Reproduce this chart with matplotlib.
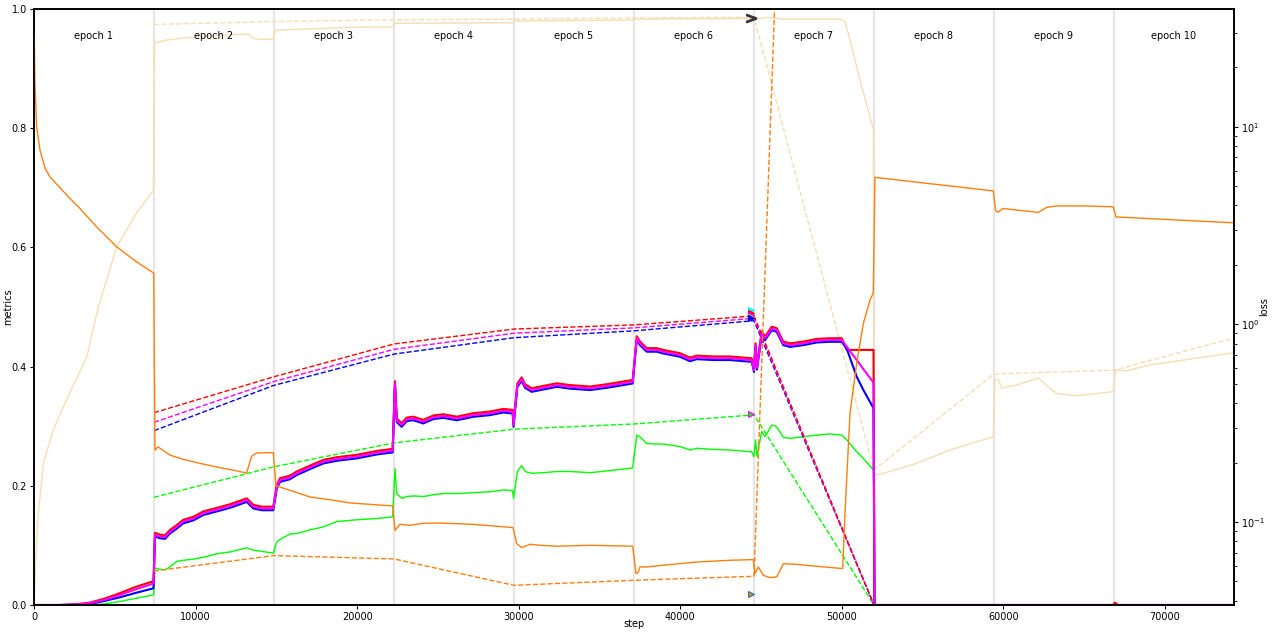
import numpy as np
import matplotlib
matplotlib.use("Agg")
import matplotlib.pyplot as plt

plt.rcParams["font.family"] = ["DejaVu Sans"]
plt.rcParams["font.size"] = 7

STEPS_PER_EPOCH = 7427
N_EPOCHS = 10

# positions below are given in epochs (step / STEPS_PER_EPOCH)

# --- train metrics (running average, reset every epoch) ---
train_pos = [
    0.0, 0.217, 0.342, 0.467, 0.592, 0.717, 0.842, 0.996,
    1.008, 1.05, 1.092, 1.133, 1.189, 1.244, 1.328, 1.411, 1.523, 1.633, 1.773, 1.828, 1.898, 1.994,
    2.023, 2.05, 2.133, 2.189, 2.3, 2.411, 2.523, 2.689, 2.856, 2.989,
    3.008, 3.023, 3.064, 3.106, 3.161, 3.244, 3.328, 3.411, 3.523, 3.661, 3.8, 3.911, 3.989, 3.996,
    4.028, 4.064, 4.092, 4.148, 4.244, 4.356, 4.467, 4.633, 4.773, 4.911, 4.989,
    5.023, 5.05, 5.106, 5.189, 5.244, 5.383, 5.467, 5.523, 5.661, 5.8, 5.981,
    6.0, 6.013, 6.025, 6.064, 6.092, 6.148, 6.189, 6.244, 6.3, 6.411, 6.523, 6.633, 6.731, 6.773, 6.856, 6.911, 6.996,
    7.004, 8.992, 9.008, 9.033, 10.0,
]
train_red = [
    0, 0, 0.001, 0.004, 0.011, 0.020, 0.030, 0.040,
    0.121, 0.118, 0.117, 0.126, 0.134, 0.143, 0.148, 0.157, 0.163, 0.169, 0.179, 0.168, 0.165, 0.165,
    0.2015, 0.2127, 0.217, 0.224, 0.234, 0.2435, 0.248, 0.252, 0.2585, 0.262,
    0.3755, 0.313, 0.305, 0.3145, 0.316, 0.3106, 0.318, 0.320, 0.316, 0.3218, 0.3246, 0.329, 0.3273, 0.305,
    0.372, 0.382, 0.3704, 0.3637, 0.3676, 0.372, 0.369, 0.3666, 0.3704, 0.375, 0.3777,
    0.451, 0.442, 0.431, 0.431, 0.428, 0.4225, 0.415, 0.4185, 0.417, 0.417, 0.414,
    0.397, 0.439, 0.401, 0.459, 0.4505, 0.467, 0.4644, 0.442, 0.439, 0.442, 0.4465, 0.4476, 0.4476, 0.428, 0.428, 0.428, 0.428,
    0, 0, 0.004, 0, 0,
]
train_magenta = [
    0, 0, 0.001, 0.003, 0.009, 0.017, 0.026, 0.036,
    0.118, 0.115, 0.114, 0.123, 0.131, 0.140, 0.145, 0.154, 0.160, 0.166, 0.176, 0.165, 0.162, 0.162,
    0.1985, 0.2097, 0.214, 0.221, 0.231, 0.2405, 0.245, 0.249, 0.2555, 0.259,
    0.3725, 0.31, 0.302, 0.3115, 0.313, 0.3076, 0.315, 0.317, 0.313, 0.3188, 0.3216, 0.326, 0.3243, 0.302,
    0.369, 0.379, 0.3674, 0.3607, 0.3646, 0.369, 0.366, 0.3636, 0.3674, 0.372, 0.3747,
    0.448, 0.439, 0.428, 0.428, 0.425, 0.4195, 0.412, 0.4155, 0.414, 0.414, 0.411,
    0.394, 0.436, 0.398, 0.456, 0.4475, 0.464, 0.4614, 0.439, 0.436, 0.439, 0.4435, 0.4446, 0.4446, 0.4334, 0.411, 0.396, 0.373,
    0, 0, 0, 0, 0,
]
train_blue = [
    0, 0, 0.0005, 0.002, 0.007, 0.013, 0.020, 0.028,
    0.115, 0.112, 0.111, 0.120, 0.128, 0.137, 0.142, 0.151, 0.157, 0.163, 0.173, 0.162, 0.159, 0.159,
    0.1955, 0.2067, 0.211, 0.218, 0.228, 0.2375, 0.242, 0.246, 0.2525, 0.256,
    0.3695, 0.307, 0.299, 0.3085, 0.310, 0.3046, 0.312, 0.314, 0.310, 0.3158, 0.3186, 0.323, 0.3213, 0.299,
    0.366, 0.376, 0.3644, 0.3577, 0.3616, 0.366, 0.363, 0.3606, 0.3644, 0.369, 0.3717,
    0.445, 0.436, 0.425, 0.425, 0.422, 0.4165, 0.409, 0.4125, 0.411, 0.411, 0.408,
    0.391, 0.433, 0.395, 0.453, 0.4445, 0.461, 0.4584, 0.436, 0.433, 0.436, 0.4405, 0.4416, 0.4416, 0.430, 0.383, 0.361, 0.330,
    0, 0, 0, 0, 0,
]
train_green = [
    0, 0, 0, 0, 0.002, 0.006, 0.011, 0.017,
    0.062, 0.060, 0.059, 0.064, 0.073, 0.075, 0.077, 0.080, 0.086, 0.089, 0.096, 0.092, 0.090, 0.087,
    0.106, 0.110, 0.119, 0.120, 0.126, 0.131, 0.140, 0.143, 0.145, 0.148,
    0.229, 0.187, 0.179, 0.182, 0.183, 0.182, 0.185, 0.187, 0.187, 0.1885, 0.190, 0.193, 0.192, 0.179,
    0.224, 0.234, 0.224, 0.221, 0.222, 0.224, 0.224, 0.222, 0.225, 0.228, 0.230,
    0.285, 0.282, 0.271, 0.270, 0.270, 0.266, 0.260, 0.263, 0.261, 0.260, 0.257,
    0.249, 0.277, 0.249, 0.291, 0.2824, 0.302, 0.299, 0.2813, 0.2796, 0.2824, 0.285, 0.287, 0.285, 0.277, 0.257, 0.246, 0.2265,
    0, 0, 0, 0, 0,
]

# --- train accuracy ---
acc_pos = [
    0.003, 0.013, 0.036, 0.078, 0.161, 0.244, 0.328, 0.439, 0.536, 0.689, 0.856, 0.996,
    1.004, 1.106, 1.383, 1.658, 1.786, 1.828, 1.883, 1.994,
    2.011, 2.217, 2.492, 2.772, 2.994,
    3.008, 3.994,
    4.008, 4.992,
    5.008, 5.983,
    6.023, 6.106, 6.244, 6.717, 6.758, 6.8, 6.883, 6.996, 7.0,
    7.008, 7.078, 7.217, 7.356, 7.633, 7.856, 7.994,
    8.008, 8.036, 8.064, 8.106, 8.189, 8.369, 8.439, 8.522, 8.689, 8.994,
    9.014, 9.106, 9.3, 9.578, 9.989,
]
train_acc = [
    0.01, 0.07, 0.154, 0.238, 0.294, 0.332, 0.369, 0.416, 0.5, 0.601, 0.658, 0.696,
    0.943, 0.948, 0.954, 0.957, 0.958, 0.951, 0.949, 0.949,
    0.9645, 0.966, 0.968, 0.970, 0.970,
    0.976, 0.977,
    0.980, 0.9815,
    0.983, 0.984,
    0.983, 0.986, 0.983, 0.983, 0.979, 0.948, 0.881, 0.797, 0.23,
    0.218, 0.221, 0.229, 0.238, 0.260, 0.274, 0.282,
    0.3775, 0.3787, 0.3636, 0.366, 0.369, 0.381, 0.368, 0.355, 0.351, 0.358,
    0.394, 0.393, 0.4027, 0.411, 0.423,
]

# --- train loss (right axis, log) ---
loss_pos = [
    0.002, 0.008, 0.022, 0.05, 0.092, 0.133, 0.3, 0.383, 0.522, 0.689, 0.856, 0.998,
    1.008, 1.033, 1.133, 1.242, 1.383, 1.525, 1.658, 1.772, 1.814, 1.856, 1.994,
    2.017, 2.05, 2.133, 2.3, 2.492, 2.633, 2.908, 2.989,
    3.008, 3.05, 3.133, 3.242, 3.383, 3.658, 3.992,
    4.022, 4.064, 4.133, 4.217, 4.356, 4.633, 4.989,
    5.017, 5.036, 5.05, 5.106, 5.242, 5.525, 5.8, 5.994,
    6.008, 6.036, 6.078, 6.133, 6.189, 6.231, 6.244, 6.356, 6.522, 6.739, 6.758, 6.8, 6.856, 6.911, 6.967, 6.994,
    7.008, 7.994,
    8.014, 8.036, 8.072, 8.369, 8.439, 8.522, 8.744, 8.994,
    9.017, 9.989,
]
train_loss = [
    29.1, 16.6, 10.0, 7.62, 6.18, 5.58, 4.34, 3.86, 3.12, 2.47, 2.07, 1.82,
    0.231, 0.240, 0.218, 0.2077, 0.198, 0.1897, 0.183, 0.177, 0.2155, 0.2236, 0.2245,
    0.1517, 0.1503, 0.1446, 0.1338, 0.1289, 0.1249, 0.1215, 0.1206,
    0.0907, 0.0973, 0.0962, 0.0985, 0.0988, 0.0973, 0.0937,
    0.0778, 0.0742, 0.0771, 0.0762, 0.0754, 0.0762, 0.0754,
    0.0548, 0.0558, 0.0592, 0.0592, 0.0604, 0.0627, 0.0640, 0.0645,
    0.0548, 0.0592, 0.0537, 0.0523, 0.0527, 0.0592, 0.0615, 0.0610, 0.0597, 0.0581, 0.110, 0.356, 0.637, 1.01, 1.33, 1.44,
    5.55, 4.74,
    3.76, 3.70, 3.86, 3.69, 3.91, 3.98, 3.98, 3.94,
    3.50, 3.27,
]

# --- validation, one value per epoch ---
val_epochs = list(range(1, N_EPOCHS + 1))
val_acc = [0.974, 0.979, 0.982, 0.983, 0.985, 0.986, 0.2265, 0.3876, 0.394, 0.448]
val_red = [0.3226, 0.383, 0.438, 0.463, 0.470, 0.485, 0, 0, 0, 0]
val_magenta = [0.3065, 0.375, 0.429, 0.456, 0.465, 0.481, 0, 0, 0, 0]
val_blue = [0.2925, 0.3686, 0.421, 0.4485, 0.460, 0.477, 0, 0, 0, 0]
val_green = [0.1807, 0.232, 0.272, 0.295, 0.3037, 0.319, 0, 0, 0, 0]
val_loss = [0.0565, 0.0676, 0.0650, 0.0478, 0.0507, 0.0531, 3e15, 2e15, 2e15, 2e15]

# --- best-epoch markers ---
best_pos = 5.971
best_vals = [0.495, 0.490, 0.487, 0.484, 0.4815, 0.320, 0.0185]
best_face = ["cyan", "red", "magenta", "yellowgreen", "blue", "lime", "#ff7f0e"]
best_edge = ["cyan", "red", "magenta", "yellowgreen", "blue", "magenta", "#1f77b4"]
best_acc = 0.9856


def to_steps(pos):
    return np.asarray(pos, dtype=float) * STEPS_PER_EPOCH


fig, ax = plt.subplots(figsize=(12.72, 6.34), dpi=100)
fig.subplots_adjust(left=34 / 1272, right=1234 / 1272, top=1 - 9 / 634, bottom=1 - 605 / 634)
ax2 = ax.twinx()

for k in range(1, N_EPOCHS):
    ax.axvline(k * STEPS_PER_EPOCH, color="#e6e6e6", lw=1.6, zorder=0)
for k in range(N_EPOCHS):
    ax.text((k + 0.5) * STEPS_PER_EPOCH, 0.955, f"epoch {k + 1}", ha="center", va="center", fontsize=7)

vx = to_steps(val_epochs)

ax.plot(to_steps(acc_pos), train_acc, color="wheat", lw=1)
ax.plot(vx, val_acc, color="wheat", lw=1, ls="--")

ax.plot(to_steps(train_pos), train_green, color="lime", lw=1)
ax.plot(vx, val_green, color="lime", lw=1, ls="--")

ax.plot(vx, val_blue, color="blue", lw=1, ls="--")
ax.plot(vx, val_magenta, color="magenta", lw=1, ls="--")
ax.plot(vx, val_red, color="red", lw=1, ls="--")

ax.plot(to_steps(train_pos), train_red, color="red", lw=1.5)
ax.plot(to_steps(train_pos), train_blue, color="blue", lw=1.5)
ax.plot(to_steps(train_pos), train_magenta, color="magenta", lw=1.5)

for v, fc, ec in zip(best_vals, best_face, best_edge):
    ax.plot(best_pos * STEPS_PER_EPOCH, v, marker=">", ms=5, mfc=fc, mec=ec, mew=0.8, ls="none")
ax.plot(best_pos * STEPS_PER_EPOCH, best_acc, marker=r"$>$", ms=7, color="#333333", ls="none")

ax2.plot(to_steps(loss_pos), train_loss, color="#ff7f0e", lw=1)
ax2.plot(vx, val_loss, color="#ff7f0e", lw=1, ls="--")

ax.set_xlim(0, N_EPOCHS * STEPS_PER_EPOCH)
ax.set_ylim(0, 1)
ax2.set_yscale("log")
ax2.set_ylim(0.038, 39.5)

ax.set_xlabel("step", fontsize=7)
ax.set_ylabel("metrics", fontsize=7)
ax2.set_ylabel("loss", fontsize=7)
ax.xaxis.set_label_coords(0.5, -0.024)
ax.yaxis.set_label_coords(-0.0175, 0.5)
ax2.yaxis.set_label_coords(1.021, 0.5)

ax.tick_params(labelsize=7, length=3, width=0.8, pad=2)
ax2.tick_params(labelsize=7, length=3, width=0.8, pad=2)
ax2.tick_params(which="minor", length=2, width=0.6)
for a in (ax, ax2):
    for s in a.spines.values():
        s.set_linewidth(1.2)

fig.savefig("out.png", dpi=100)
